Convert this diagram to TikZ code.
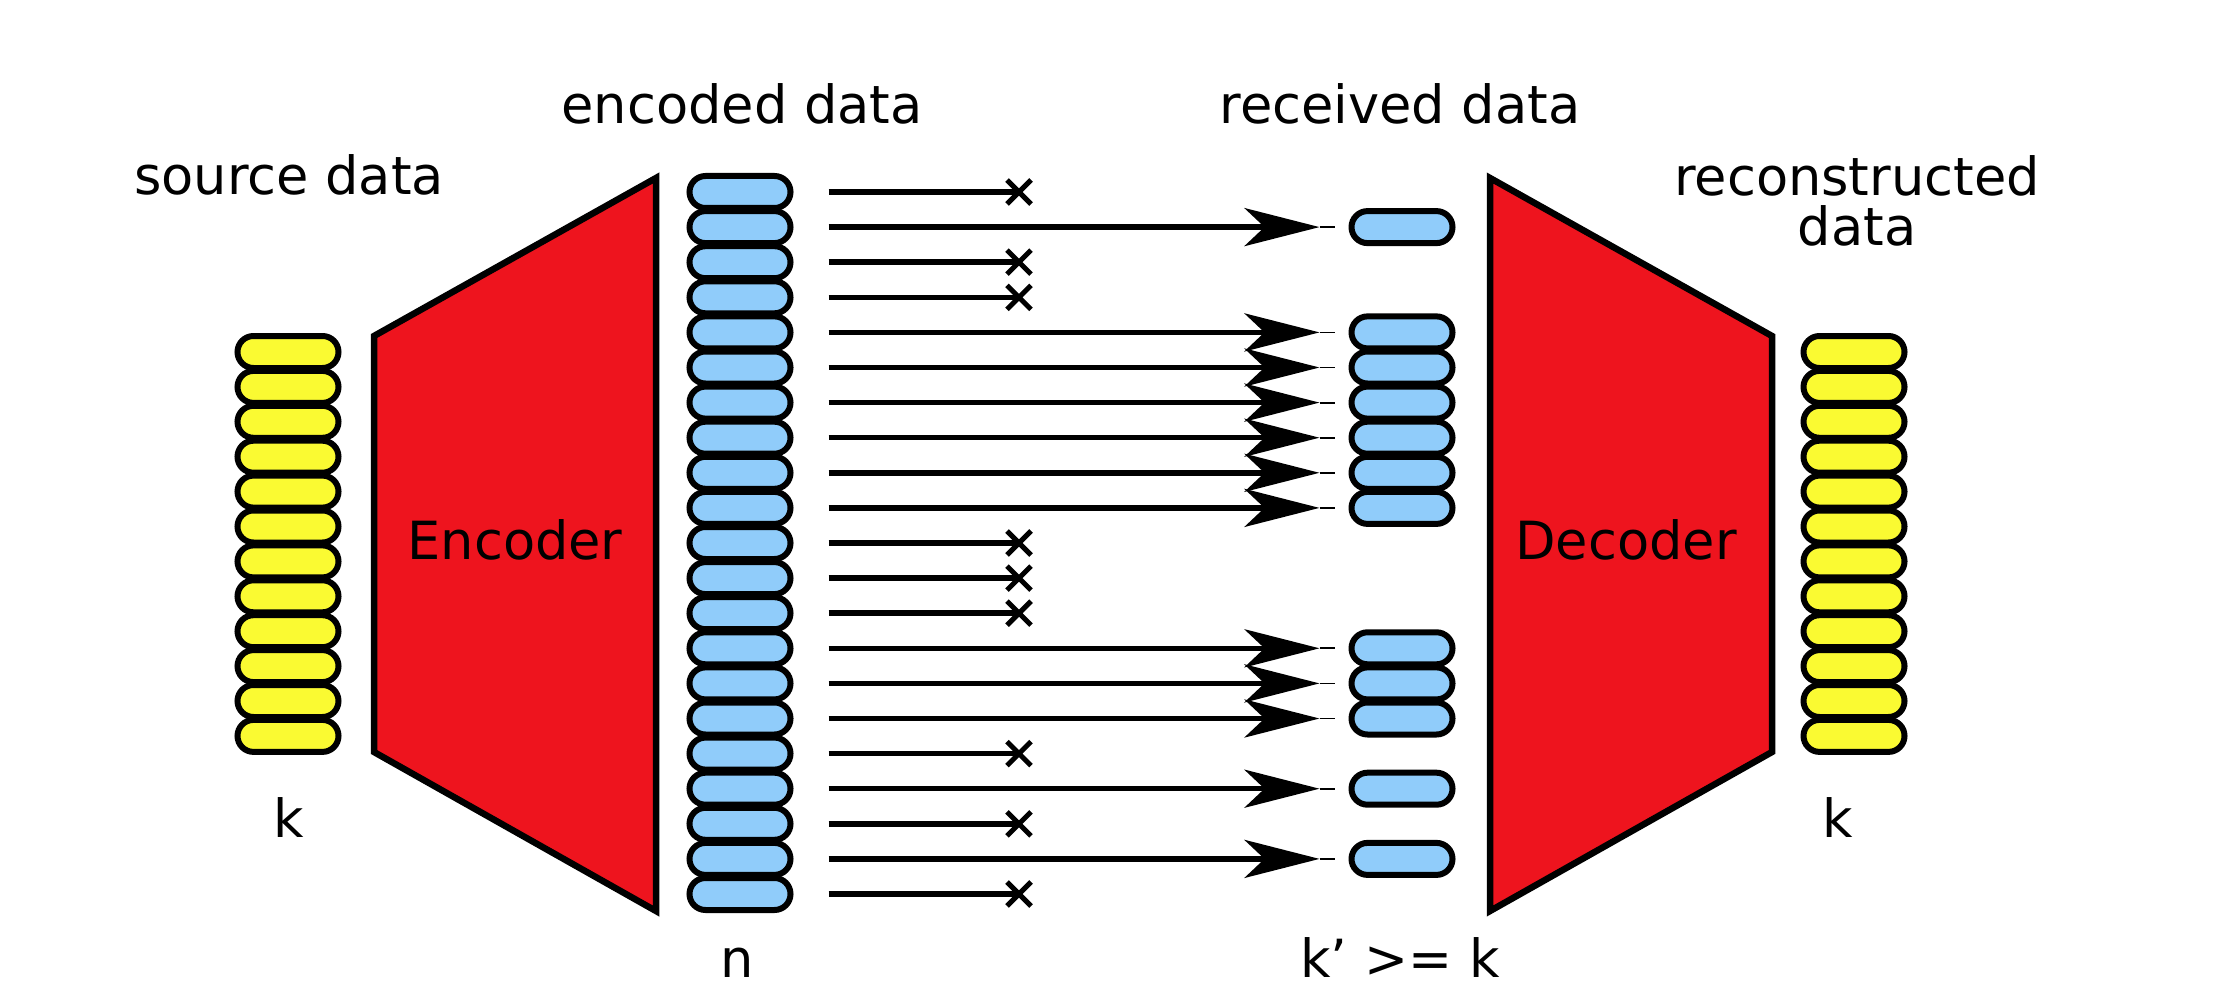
\documentclass[tikz,border=0pt]{standalone}
\usepackage{fontspec}
\setmainfont{DejaVu Sans}
\usetikzlibrary{arrows.meta,shapes.misc}
\definecolor{ovalyellow}{RGB}{250,250,50}
\definecolor{ovalblue}{RGB}{144,204,250}
\definecolor{coderred}{RGB}{238,20,30}
\tikzset{
  oval/.style={draw=black, line width=6pt, rounded corners=16pt, minimum width=101pt, minimum height=32pt, inner sep=0pt},
  srcoval/.style={oval, fill=ovalyellow},
  encoval/.style={oval, fill=ovalblue},
  trap/.style={draw=black, fill=coderred, line width=6.5pt, line join=miter},
  lbl/.style={font=\fontsize{52.6pt}{60pt}\selectfont, inner sep=0pt, anchor=base},
  sent/.style={line width=5.5pt, -{Stealth[length=75pt,width=38pt,inset=20pt]}},
  tailline/.style={line width=1.8pt},
  lostline/.style={line width=5.5pt},
  lostmark/.style={cross out, draw=black, line width=5pt, minimum size=19pt, inner sep=0pt}
}
\begin{document}
\begin{tikzpicture}[x=1pt,y=-1pt]
\useasboundingbox[fill=white] (0,0) rectangle (2232,1000);

% encoder / decoder
\draw[trap] (374,336) -- (656,178) -- (656,911) -- (374,752) -- cycle;
\draw[trap] (1490,178) -- (1772,336) -- (1772,752) -- (1490,911) -- cycle;
\node[lbl] (enclbl) at (515,559) {Encoder};
\node[lbl] (declbl) at (1626,559) {Decoder};

% source and reconstructed data
\foreach \j in {0,...,11} {
  \node[srcoval] (s\j) at (288,{352+34.9*\j}) {};
}
\foreach \j in {0,...,11} {
  \node[srcoval] (d\j) at (1854,{352+34.9*\j}) {};
}

% encoded data
\foreach \i in {0,...,20} {
  \node[encoval] (e\i) at (740,{192+35.1*\i}) {};
}

% received data
\foreach \i in {1,4,5,6,7,8,9,13,14,15,17,19} {
  \node[encoval] (r\i) at (1402,{192+35.1*\i}) {};
}

% delivered packets
\foreach \i in {1,4,5,6,7,8,9,13,14,15,17,19} {
  \draw[sent] ([xshift=35pt]e\i.east) -- ([xshift=-29pt]r\i.west);
  \draw[tailline] ([xshift=-29pt]r\i.west) -- ([xshift=-14pt]r\i.west);
}

% lost packets
\foreach \i in {0,2,3,10,11,12,16,18,20} {
  \node[lostmark] (x\i) at (1019,{192+35.1*\i}) {};
  \draw[lostline] ([xshift=35pt]e\i.east) -- (x\i.center);
}

% labels
\node[lbl] (srcdata) at (289,195) {source data};
\node[lbl] (encdata) at (742,124) {encoded data};
\node[lbl] (recdata) at (1400,124) {received data};
\node[lbl] (recon1) at (1857,196) {reconstructed};
\node[lbl] (recon2) at (1857,246) {data};
\node[lbl] (kleft) at (289,837) {k};
\node[lbl] (nlbl) at (737,977) {n};
\node[lbl] (kprime) at (1400,977) {k’ >= k};
\node[lbl] (kright) at (1838,837) {k};
\end{tikzpicture}
\end{document}
